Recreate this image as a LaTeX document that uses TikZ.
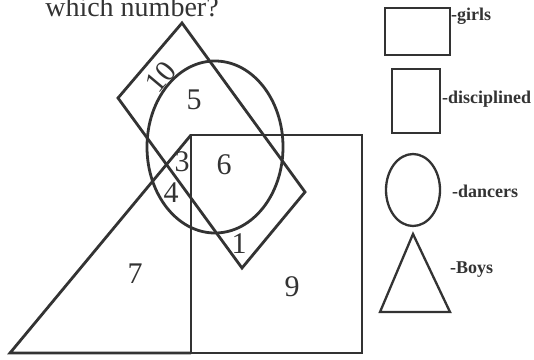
\documentclass[tikz,border=0pt]{standalone}
\usepackage{fontspec}
\setmainfont{Liberation Serif}
\usepackage{tikz}

\definecolor{ink}{gray}{0.2}
\tikzset{
  set/.style={draw=ink, line width=2.8pt, line join=miter},
  key/.style={draw=ink, line width=2.3pt, line join=miter},
  num/.style={text=ink, inner sep=0pt, font=\fontsize{30}{32}\selectfont},
  keytext/.style={text=ink, inner sep=0pt, anchor=base west, font=\fontsize{18}{20}\selectfont\bfseries}
}

\begin{document}
\begin{tikzpicture}[x=1pt, y=-1pt]
  \useasboundingbox (0,0) rectangle (534,359);
  \fill[white] (0,0) rectangle (534,359);
  \node[text=ink, inner sep=0pt, anchor=base, font=\fontsize{28}{30}\selectfont] (title) at (132,16) {which number?};

  % girls: the large square
  \draw[set] (191,135) rectangle (362,353);
  % boys: triangle sharing the left side of the square
  \coordinate (tapex) at (191,135);
  \coordinate (tleft) at (10,353);
  \coordinate (tright) at (191,353);
  \draw[set] (tapex) -- (tleft) -- (tright);
  % disciplined: the tilted rectangle
  \coordinate (dtop) at (182,23);
  \coordinate (dright) at (305,192);
  \coordinate (dbot) at (242,268);
  \coordinate (dleft) at (118,98);
  \draw[set] (dtop) -- (dright) -- (dbot) -- (dleft) -- cycle;
  % dancers
  \draw[set] (215,147) ellipse [x radius=68pt, y radius=86pt];

  % regions
  \node[num, rotate=50] (n10) at (161,77) {10};
  \node[num] (n5) at (194,100) {5};
  \node[num] (n3) at (182,162) {3};
  \node[num] (n6) at (224,165) {6};
  \node[num] (n4) at (171,193) {4};
  \node[num] (n1) at (239,244) {1};
  \node[num] (n7) at (135,274) {7};
  \node[num] (n9) at (292,287) {9};

  % key
  \draw[key] (385,8) rectangle (450,55);
  \node[keytext] (kgirls) at (451,20) {-girls};
  \draw[key] (392,69) rectangle (440,133);
  \node[keytext] (kdisc) at (442,103) {-disciplined};
  \draw[key] (413,190) ellipse [x radius=27pt, y radius=36pt];
  \node[keytext] (kdance) at (452,197) {-dancers};
  \draw[key] (413,234) -- (380,312) -- (450,312) -- cycle;
  \node[keytext] (kboys) at (450,273) {-Boys};
\end{tikzpicture}
\end{document}
